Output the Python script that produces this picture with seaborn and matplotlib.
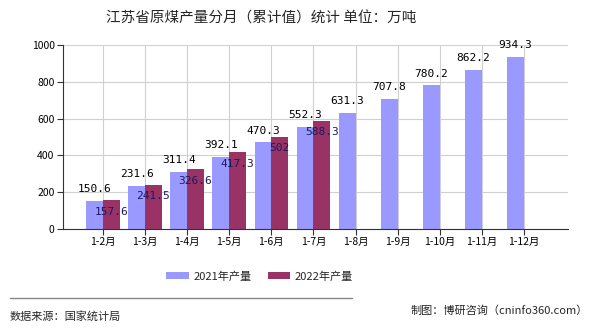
import numpy as np
import pandas as pd
import matplotlib
matplotlib.use("Agg")
import matplotlib.pyplot as plt
import seaborn as sns
from matplotlib.lines import Line2D

months = ["1-2月", "1-3月", "1-4月", "1-5月", "1-6月", "1-7月",
          "1-8月", "1-9月", "1-10月", "1-11月", "1-12月"]
values_2021 = [150.6, 231.6, 311.4, 392.1, 470.3, 552.3, 631.3, 707.8, 780.2, 862.2, 934.3]
values_2022 = [157.6, 241.5, 326.6, 417.3, 502, 588.3]
series_names = ["2021年产量", "2022年产量"]
colors = ["#9999FF", "#993366"]
yticks = [0, 200, 400, 600, 800, 1000]

title = "江苏省原煤产量分月（累计值）统计 单位：万吨"
source = "数据来源：国家统计局"
credit = "制图：博研咨询（cninfo360.com）"

sns.set_theme(style="white")
plt.rcParams["font.family"] = ["Noto Sans CJK SC", "DejaVu Sans"]

rows = []
for m, v in zip(months, values_2021):
    rows.append({"month": m, "value": v, "series": series_names[0]})
for i, m in enumerate(months):
    v = values_2022[i] if i < len(values_2022) else np.nan
    rows.append({"month": m, "value": v, "series": series_names[1]})
df = pd.DataFrame(rows)

fig = plt.figure(figsize=(5.9, 3.3), dpi=100)
ax = fig.add_axes([0.1068, 0.306, 0.856, 0.5576])

sns.barplot(data=df, x="month", y="value", hue="series", order=months,
            hue_order=series_names, palette=colors, width=0.8,
            saturation=1, dodge=True, ax=ax, legend=True,
            linewidth=0, edgecolor="none")

for cont, lbls, pad, col in [(ax.containers[0], values_2021, 5, "black"),
                             (ax.containers[1], values_2022, -12, "#1a1a60")]:
    texts = [f"{v:g}" for v in lbls] + [""] * (len(cont) - len(lbls))
    ax.bar_label(cont, labels=texts, padding=pad, fontsize=8, color=col,
                 family=["DejaVu Sans Mono", "DejaVu Sans"])

ax.set_xlim(-0.95, 11.05)
ax.set_ylim(0, 1000)
ax.set_yticks(yticks)
ax.set_yticklabels([str(t) for t in yticks], fontsize=7.5)
ax.set_xticks(range(len(months)))
ax.set_xticklabels(months, fontsize=7.5)
ax.set_xlabel("")
ax.set_ylabel("")

ax.grid(True, axis="both", color="#d0d0d0", linewidth=0.8)
ax.set_axisbelow(True)
for s in ["top", "right"]:
    ax.spines[s].set_visible(False)
for s in ["left", "bottom"]:
    ax.spines[s].set_color("#333333")
    ax.spines[s].set_linewidth(0.8)
ax.tick_params(axis="both", direction="out", length=4, width=0.8,
               colors="#333333", labelcolor="black", bottom=True, left=True, pad=2)

handles, labels = ax.get_legend_handles_labels()
ax.get_legend().remove()
fig.legend(handles, labels, loc="center", bbox_to_anchor=(0.44, 0.163), ncol=2,
           frameon=False, fontsize=8, handlelength=2.0, handleheight=0.6,
           columnspacing=1.5, handletextpad=0.4)

fig.text(0.443, 0.945, title, ha="center", va="center", fontsize=10.5)
fig.add_artist(Line2D([0.017, 0.597], [0.097, 0.097], color="#888888", linewidth=1))
fig.text(0.017, 0.042, source, ha="left", va="center", fontsize=8)
fig.text(0.997, 0.058, credit, ha="right", va="center", fontsize=8)

fig.savefig("out.png", dpi=100)
